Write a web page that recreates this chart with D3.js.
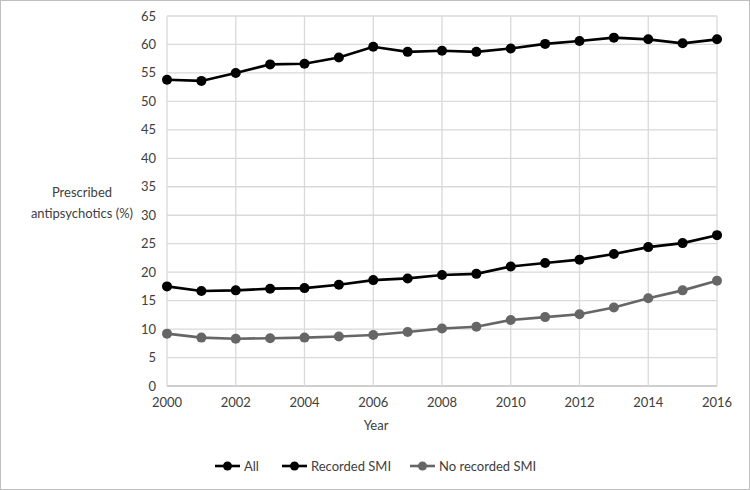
<!DOCTYPE html>
<html><head><meta charset="utf-8">
<script src="https://cdn.jsdelivr.net/npm/d3@7"></script>
<style>body{margin:0;background:#fff}svg{display:block}text{font-family:Lato,"Open Sans",sans-serif;fill:#404040}</style>
</head><body><svg id="c" width="750" height="490"></svg>
<script>
const years = d3.range(2000, 2017);
const recordedSMI = [53.8,53.6,55.0,56.5,56.6,57.7,59.6,58.7,58.9,58.7,59.3,60.1,60.6,61.2,60.9,60.2,60.9];
const allPatients = [17.5,16.7,16.8,17.1,17.2,17.8,18.6,18.9,19.5,19.7,21.0,21.6,22.2,23.2,24.4,25.1,26.5];
const noRecordedSMI = [9.2,8.5,8.3,8.4,8.5,8.7,8.95,9.5,10.1,10.4,11.6,12.1,12.6,13.8,15.4,16.8,18.5];
const yTicks = d3.range(0, 66, 5);
const xTicks = d3.range(2000, 2017, 2);
const seriesNames = ["All","Recorded SMI","No recorded SMI"];
const seriesColors = ["#000000","#000000","#666666"];

const svg = d3.select("#c");
svg.append("rect").attr("x",0.5).attr("y",0.5).attr("width",749).attr("height",489).attr("fill","#fff").attr("stroke","#bfbfbf");

const x = d3.scaleLinear().domain([2000,2016]).range([167,717]);
const y = d3.scaleLinear().domain([0,65]).range([386,16]);

const g = svg.append("g");
g.selectAll(".hg").data(yTicks).join("line").attr("x1",x(2000)).attr("x2",x(2016))
  .attr("y1",d=>y(d)).attr("y2",d=>y(d)).attr("stroke",d=>d===0?"#bfbfbf":"#d9d9d9").attr("stroke-width",1.3);
g.selectAll(".vg").data(xTicks).join("line").attr("y1",y(0)).attr("y2",y(65))
  .attr("x1",d=>x(d)).attr("x2",d=>x(d)).attr("stroke","#d9d9d9").attr("stroke-width",1.3);

g.selectAll(".yl").data(yTicks).join("text").attr("x",156).attr("y",d=>y(d)+4.5)
  .attr("text-anchor","end").attr("font-size",13).text(d=>d);
g.selectAll(".xl").data(xTicks).join("text").attr("x",d=>x(d)).attr("y",407)
  .attr("text-anchor","middle").attr("font-size",13).text(d=>d);

svg.append("text").attr("x",376).attr("y",430).attr("text-anchor","middle").attr("font-size",13).text("Year");
const yt = svg.append("text").attr("x",82).attr("text-anchor","middle").attr("font-size",13);
yt.append("tspan").attr("x",82).attr("y",197).text("Prescribed");
yt.append("tspan").attr("x",82).attr("y",218).text("antipsychotics (%)");

const data = [allPatients, recordedSMI, noRecordedSMI];
const line = d3.line().x((d,i)=>x(years[i])).y(d=>y(d));
data.forEach((s,k)=>{
  g.append("path").datum(s).attr("d",line).attr("fill","none").attr("stroke",seriesColors[k]).attr("stroke-width",2.6);
  g.selectAll(".p"+k).data(s).join("circle").attr("cx",(d,i)=>x(years[i])).attr("cy",d=>y(d)).attr("r",5).attr("fill",seriesColors[k]);
});

const legX = [215, 282, 410];
const lg = svg.append("g");
seriesNames.forEach((n,k)=>{
  lg.append("line").attr("x1",legX[k]).attr("x2",legX[k]+25).attr("y1",466).attr("y2",466).attr("stroke",seriesColors[k]).attr("stroke-width",2.6);
  lg.append("circle").attr("cx",legX[k]+12.5).attr("cy",466).attr("r",4.5).attr("fill",seriesColors[k]);
  lg.append("text").attr("x",legX[k]+29).attr("y",470.5).attr("font-size",13).text(n);
});
</script></body></html>
